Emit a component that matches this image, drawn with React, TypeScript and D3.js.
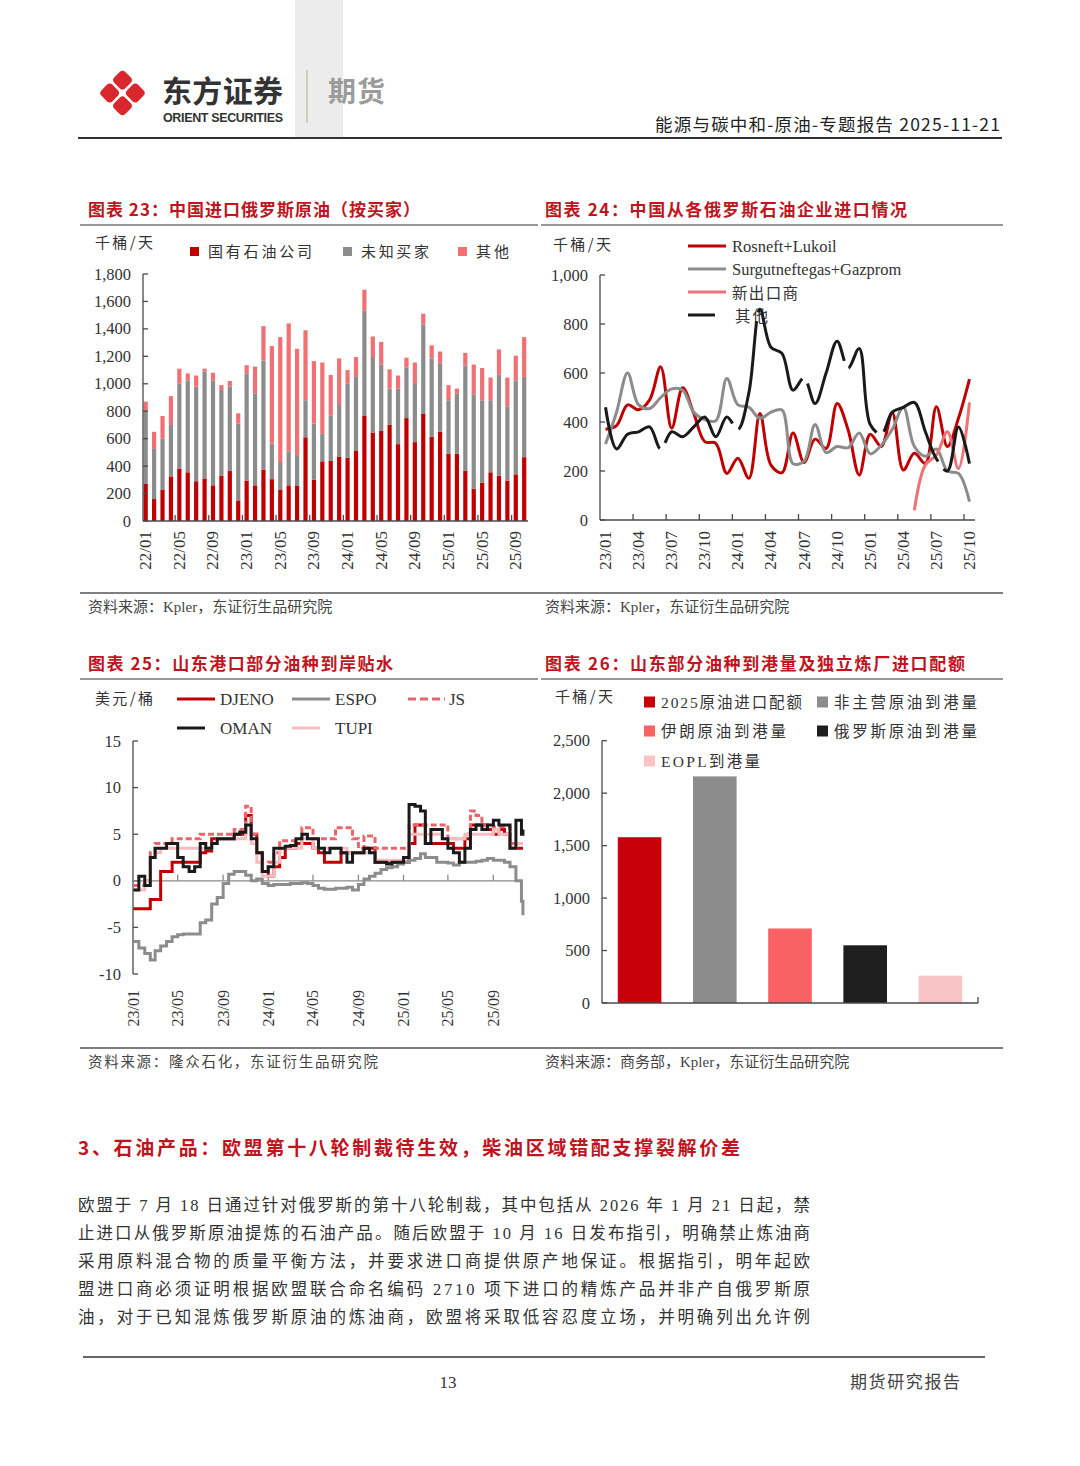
import React from "react";
import * as d3 from "d3";

const SERIF = "'Liberation Serif', 'Noto Sans CJK SC', serif";
const CJK = "'Noto Sans CJK SC', sans-serif";
const RED = "#C00000";
const GRAY = "#8C8C8C";
const AXIS = "#4a4a4a";
const TITLE_RED = "#C0141E";

// ---------- 图表23 中国进口俄罗斯原油（按买家）
const years23 = ["22", "23", "24", "25"];
const mm = ["01", "02", "03", "04", "05", "06", "07", "08", "09", "10", "11", "12"];
const months23 = years23.flatMap((y) => mm.map((m) => `${y}/${m}`)).slice(0, 46);
const stateOwned23 = [270, 160, 230, 325, 380, 355, 290, 310, 260, 330, 365, 150, 295, 260, 375, 305, 230, 260, 255, 610, 300, 435, 440, 470, 460, 510, 765, 645, 660, 700, 560, 750, 575, 780, 615, 650, 490, 490, 365, 235, 280, 355, 330, 295, 340, 465];
const unknown23 = [525, 365, 370, 375, 620, 670, 690, 780, 765, 625, 615, 560, 780, 670, 795, 260, 200, 245, 225, 270, 410, 200, 330, 375, 540, 540, 770, 550, 480, 265, 405, 370, 430, 650, 570, 500, 390, 440, 770, 685, 600, 525, 735, 540, 685, 585];
const other23 = [75, 125, 165, 210, 110, 50, 80, 20, 55, 35, 40, 75, 60, 195, 250, 710, 910, 935, 775, 510, 455, 520, 295, 340, 100, 145, 150, 150, 165, 140, 95, 70, 150, 80, 95, 85, 110, 35, 90, 220, 235, 165, 185, 210, 180, 290];
const legend23 = ["国有石油公司", "未知买家", "其他"];

// ---------- 图表24 中国从各俄罗斯石油企业进口情况
const months24 = ["23", "24", "25"].flatMap((y) => mm.map((m) => `${y}/${m}`)).slice(0, 34);
const rosneft24 = [370, 385, 470, 450, 490, 625, 375, 540, 435, 320, 313, 190, 252, 170, 435, 224, 193, 355, 235, 330, 292, 476, 367, 184, 350, 300, 438, 204, 272, 231, 462, 300, 415, 575];
const surgut24 = [310, 440, 600, 470, 455, 500, 535, 530, 440, 410, 405, 578, 470, 460, 415, 440, 449, 230, 240, 390, 275, 300, 295, 355, 270, 305, 370, 460, 300, 260, 290, 200, 190, 75];
const newExp24 = [null, null, null, null, null, null, null, null, null, null, null, null, null, null, null, null, null, null, null, null, null, null, null, null, null, null, null, null, 40, 225, 265, 360, 210, 480];
const others24 = [460, 290, 350, 360, 380, 290, 360, 340, 380, 420, 340, 420, 370, 520, 860, 705, 680, 530, 580, 475, 600, 730, 620, 700, 390, 350, 440, 460, 480, 360, 250, 200, 380, 230];
const legend24 = ["Rosneft+Lukoil", "Surgutneftegas+Gazprom", "新出口商", "其他"];

// ---------- 图表25 山东港口部分油种到岸贴水 (半月采样)
const dates25 = [
  ...d3.range(70).map((k) => new Date(2023, Math.floor(k / 2), k % 2 ? 16 : 1)),
  new Date(2025, 10, 20),
];
const djeno25 = [-3, -3, -3, -2, -2, 1, 1, 2, 2, 2, 2, 2, 3, 3.2, 4.5, 4.5, 4.5, 4.5, 5, 5, 7, 5, 3, 1, 0.5, 1.5, 2.5, 3.5, 3.5, 4, 4, 4, 3.5, 3, 2, 2, 2, 3, 3, 3, 3, 3.5, 3.5, 2, 2, 2, 2, 2, 2, 4, 6, 6, 4, 4, 4, 4, 4, 3.5, 3.5, 4.5, 6, 6, 6, 5.5, 5, 5.5, 5, 3.5, 3.5, 3.5, 3.5];
const espo25 = [-6.5, -7.2, -7.8, -8.5, -7.5, -7, -6.5, -6, -5.8, -5.7, -5.7, -5.7, -4.5, -4.2, -2.5, -1.8, -0.3, 0.7, 1, 1, 0.6, 0, 0.2, -0.3, -0.5, -0.4, -0.4, -0.4, -0.3, -0.3, -0.2, -0.3, -0.5, -0.8, -0.9, -0.9, -0.8, -0.8, -0.7, -1, -0.4, 0.2, 0.5, 0.8, 1.2, 1.4, 1.5, 1.8, 2, 2.2, 2.4, 2.9, 2.5, 2.5, 2, 2, 1.9, 1.7, 2, 2, 2, 2.1, 2.2, 2.4, 2.2, 2.2, 2, 1.5, 0, -2.2, -3.7];
const js25 = [-0.5, -0.5, 0, 3, 4, 4, 4, 4.5, 4.5, 4.5, 4.5, 4.5, 5, 5, 5, 5, 5, 5, 5.5, 5.5, 8, 5, 3, 1, 2, 3, 4.3, 4.3, 4.3, 4.3, 5.7, 5.7, 4.5, 4.5, 4.5, 4.5, 5.7, 5.7, 5.7, 4.5, 3.5, 4.8, 4.8, 3.5, 3.5, 3.5, 3.5, 3.5, 3.5, 6, 6, 6, 6, 6, 6, 6, 4.5, 4.5, 4.5, 5, 7.5, 7, 6, 6, 5.8, 5.8, 5.8, 4, 4, 4, 4];
const oman25 = [-1, 0.5, -0.5, 2.5, 3.5, 3.5, 4, 4, 2.5, 1.5, 1, 1.5, 4, 3.5, 4, 4.5, 4.5, 4.5, 5, 5.2, 6, 4.5, 3, 1, 1.5, 3.5, 3.5, 3.7, 3.8, 4.5, 5, 4.5, 4.5, 3.5, 3, 3.5, 3.5, 3, 2, 3, 3, 3.5, 3, 2, 2, 1.8, 2, 2, 2.5, 8.2, 8, 7.5, 4, 5.5, 5.5, 4.5, 3.5, 3, 2, 3.5, 5.5, 6, 5.5, 6, 6.5, 6, 6, 3.5, 6.5, 5, 5.5];
const tupi25 = [-1, -1, 0, 2.5, 3, 3.5, 3.5, 3.5, 3.5, 3.5, 3.5, 3.5, 3.5, 3.5, 4, 4.5, 4.5, 4.5, 4.5, 4.5, 6, 4, 2, 0.5, 0.5, 2, 3.5, 3.5, 3.5, 3.5, 4.5, 4.5, 3.5, 3.5, 3.5, 3.5, 3.5, 3.5, 3, 3, 3, 3, 3, 2.2, 2.2, 2.2, 2.2, 2.2, 2.5, 5, 5, 5, 5, 5, 5, 4.5, 4.5, 4.5, 4.5, 5, 5, 5, 5, 5, 5.5, 5, 5, 3.5, 4, 4, 4];
const ticks25 = ["23/01", "23/05", "23/09", "24/01", "24/05", "24/09", "25/01", "25/05", "25/09"];

// ---------- 图表26 山东部分油种到港量及独立炼厂进口配额
const cats26 = ["2025原油进口配额", "非主营原油到港量", "伊朗原油到港量", "俄罗斯原油到港量", "EOPL到港量"];
const values26 = [1580, 2160, 710, 550, 260];
const colors26 = ["#C8000A", "#8C8C8C", "#F86262", "#1E1E1E", "#F8C4C6"];

const bodyLines = [
  "欧盟于 7 月 18 日通过针对俄罗斯的第十八轮制裁，其中包括从 2026 年 1 月 21 日起，禁",
  "止进口从俄罗斯原油提炼的石油产品。随后欧盟于 10 月 16 日发布指引，明确禁止炼油商",
  "采用原料混合物的质量平衡方法，并要求进口商提供原产地保证。根据指引，明年起欧",
  "盟进口商必须证明根据欧盟联合命名编码 2710 项下进口的精炼产品并非产自俄罗斯原",
  "油，对于已知混炼俄罗斯原油的炼油商，欧盟将采取低容忍度立场，并明确列出允许例",
];

const fmt = d3.format(",");

const T = ({ x, y, children, size = 15, fill = "#333", anchor = "start", len, weight, family = SERIF, ...rest }: any) => (
  <text x={x} y={y} fontSize={size} fill={fill} textAnchor={anchor} fontFamily={family} fontWeight={weight}
    textLength={len} lengthAdjust={len ? "spacing" : undefined} {...rest}>{children}</text>
);

const RotLabel = ({ x, y, text, size = 17 }: any) => (
  <text transform={`translate(${x},${y}) rotate(-90)`} textAnchor="end" dominantBaseline="central"
    fontSize={size} fontFamily={SERIF} fill="#333">{text}</text>
);

function YAxis({ scale, x, ticks, labelX, fmtFn = fmt }: any) {
  const [r0, r1] = scale.range();
  return (
    <g>
      <line x1={x} x2={x} y1={r0} y2={r1} stroke={AXIS} strokeWidth={1.3} />
      {ticks.map((t: number) => (
        <g key={t}>
          <line x1={x} x2={x + 5} y1={scale(t)} y2={scale(t)} stroke={AXIS} strokeWidth={1.3} />
          <T x={labelX} y={scale(t)} anchor="end" size={16.5} dominantBaseline="central">{fmtFn(t)}</T>
        </g>
      ))}
    </g>
  );
}

function Chart23() {
  const x = d3.scaleBand<string>().domain(months23).range([143.6, 526.3]).paddingInner(0.5).paddingOuter(0);
  const y = d3.scaleLinear().domain([0, 1800]).range([521, 274]);
  const rows = months23.map((m, i) => ({ m, a: stateOwned23[i], b: unknown23[i], c: other23[i] }));
  const stacked = d3.stack<any>().keys(["a", "b", "c"])(rows);
  const colors = [RED, GRAY, "#F07074"];
  const step = x.step();
  const legX = [190, 343, 458];
  const legLen = [104, 68, 33];
  return (
    <g>
      <T x={95} y={248} size={15} family={CJK} len={58}>千桶/天</T>
      {legend23.map((l, i) => (
        <g key={l}>
          <rect x={legX[i]} y={247} width={9} height={9} fill={colors[i]} />
          <T x={legX[i] + 18} y={257} size={15} family={CJK} len={legLen[i]}>{l}</T>
        </g>
      ))}
      {stacked.map((s, k) => (
        <g key={k} fill={colors[k]}>
          {s.map((d: any) => (
            <rect key={d.data.m} x={x(d.data.m)} width={x.bandwidth()} y={y(d[1])} height={y(d[0]) - y(d[1])} />
          ))}
        </g>
      ))}
      <YAxis scale={y} x={143} ticks={d3.range(0, 1801, 200)} labelX={131} />
      <line x1={143} x2={528} y1={521} y2={521} stroke={AXIS} strokeWidth={1.3} />
      {months23.map((m, i) => i % 4 === 0 ? (
        <g key={m}>
          {i > 0 && <line x1={x(m)! - (step - x.bandwidth()) / 2} x2={x(m)! - (step - x.bandwidth()) / 2} y1={521} y2={515} stroke={AXIS} strokeWidth={1.3} />}
          <RotLabel x={x(m)! + x.bandwidth() / 2} y={531} text={m} />
        </g>
      ) : null)}
    </g>
  );
}

function Chart24() {
  const x = d3.scaleBand<string>().domain(months24).range([600, 975]).padding(0);
  const y = d3.scaleLinear().domain([0, 1000]).range([520, 275]);
  const cx = (i: number) => x(months24[i])! + x.bandwidth() / 2;
  const line = d3.line<any>().defined((d) => d != null).x((_, i) => cx(i)).y((d) => y(d)).curve(d3.curveCatmullRom.alpha(0.5));
  const series = [
    { v: rosneft24, c: RED, dash: undefined },
    { v: surgut24, c: GRAY, dash: undefined },
    { v: newExp24, c: "#EE7276", dash: undefined },
    { v: others24, c: "#1A1A1A", dash: "110,9" },
  ];
  const legY = [246, 269, 292, 315];
  return (
    <g>
      <T x={553} y={250} size={15} family={CJK} len={58}>千桶/天</T>
      {series.map((s, i) => (
        <g key={i}>
          <line x1={688} x2={i === 3 ? 715 : 726} y1={legY[i]} y2={legY[i]} stroke={s.c} strokeWidth={3} />
          <T x={i === 3 ? 735 : 732} y={legY[i]} size={i > 1 ? 15.5 : 16.5} family={i > 1 ? CJK : SERIF}
            dominantBaseline="central" len={i === 2 ? 66 : i === 3 ? 33 : undefined}>{legend24[i]}</T>
        </g>
      ))}
      <YAxis scale={y} x={600} ticks={d3.range(0, 1001, 200)} labelX={588} />
      <line x1={600} x2={975} y1={520} y2={520} stroke={AXIS} strokeWidth={1.3} />
      {series.map((s, i) => (
        <path key={i} d={line(s.v as any) || ""} fill="none" stroke={s.c} strokeWidth={3} strokeDasharray={s.dash} />
      ))}
      {months24.map((m, i) => i % 3 === 0 ? (
        <g key={m}>
          {i > 0 && <line x1={x(m)} x2={x(m)} y1={520} y2={514} stroke={AXIS} strokeWidth={1.3} />}
          <RotLabel x={cx(i)} y={531} text={m} />
        </g>
      ) : null)}
    </g>
  );
}

function Chart25() {
  const x = d3.scaleTime().domain([new Date(2023, 0, 1), new Date(2025, 11, 1)]).range([133.3, 527]);
  const y = d3.scaleLinear().domain([-10, 15]).range([974, 741]);
  const line = d3.line<number>().x((_, i) => x(dates25[i])).y((d) => y(d)).curve(d3.curveStepAfter);
  const series = [
    { name: "DJENO", v: djeno25, c: RED, dash: undefined },
    { name: "ESPO", v: espo25, c: GRAY, dash: undefined },
    { name: "JS", v: js25, c: "#E8666B", dash: "6,3" },
    { name: "TUPI", v: tupi25, c: "#F6BDC0", dash: undefined },
    { name: "OMAN", v: oman25, c: "#1A1A1A", dash: undefined },
  ];
  const leg = [
    { s: series[0], lx: 177, ly: 699, tx: 220, w: 38 },
    { s: series[1], lx: 292, ly: 699, tx: 335, w: 38 },
    { s: series[2], lx: 408, ly: 699, tx: 449, w: 37 },
    { s: series[4], lx: 177, ly: 728, tx: 220, w: 28 },
    { s: series[3], lx: 292, ly: 728, tx: 335, w: 28 },
  ];
  const tickDates = ticks25.map((t, k) => new Date(2023, k * 4, 1));
  return (
    <g>
      <T x={95} y={704} size={15} family={CJK} len={58}>美元/桶</T>
      {leg.map((l) => (
        <g key={l.s.name}>
          <line x1={l.lx} x2={l.lx + l.w} y1={l.ly} y2={l.ly} stroke={l.s.c} strokeWidth={3} strokeDasharray={l.s.dash ? "8,4" : undefined} />
          <T x={l.tx} y={l.ly} size={17} dominantBaseline="central">{l.s.name}</T>
        </g>
      ))}
      <YAxis scale={y} x={133} ticks={d3.range(-10, 16, 5)} labelX={121} fmtFn={(v: number) => String(v)} />
      <line x1={133} x2={523} y1={y(0)} y2={y(0)} stroke="#8a8a8a" strokeWidth={1.3} />
      {tickDates.map((d, k) => (
        <g key={k}>
          {k > 0 && <line x1={x(d)} x2={x(d)} y1={y(0)} y2={y(0) - 6} stroke="#8a8a8a" strokeWidth={1.3} />}
          <RotLabel x={x(d)} y={990} text={ticks25[k]} size={16} />
        </g>
      ))}
      {series.map((s) => (
        <path key={s.name} d={line(s.v) || ""} fill="none" stroke={s.c} strokeWidth={3} strokeDasharray={s.dash} />
      ))}
    </g>
  );
}

function Chart26() {
  const x = d3.scaleBand<string>().domain(cats26).range([602, 978]).paddingInner(0.42).paddingOuter(0.21);
  const y = d3.scaleLinear().domain([0, 2500]).range([1003, 740.7]);
  const leg = [
    { x: 644, y: 702, len: 141 }, { x: 817, y: 702, len: 143 },
    { x: 644, y: 731, len: 125 }, { x: 817, y: 731, len: 143 },
    { x: 644, y: 761, len: 99 },
  ];
  return (
    <g>
      <T x={555} y={702} size={15} family={CJK} len={58}>千桶/天</T>
      {cats26.map((c, i) => (
        <g key={c}>
          <rect x={leg[i].x} y={leg[i].y - 5.5} width={11} height={11} fill={colors26[i]} />
          <T x={leg[i].x + 17} y={leg[i].y} size={15.5} dominantBaseline="central" len={leg[i].len}>{c}</T>
        </g>
      ))}
      {cats26.map((c, i) => (
        <rect key={c} x={x(c)} width={x.bandwidth()} y={y(values26[i])} height={y(0) - y(values26[i])} fill={colors26[i]} />
      ))}
      <YAxis scale={y} x={602} ticks={d3.range(0, 2501, 500)} labelX={590} />
      <line x1={602} x2={978} y1={1003} y2={1003} stroke={AXIS} strokeWidth={1.3} />
      <line x1={978} x2={978} y1={1003} y2={997} stroke={AXIS} strokeWidth={1.3} />
    </g>
  );
}

function Logo() {
  const s = 15.5, g = 2.6, d = (s + g) / Math.SQRT2;
  const cx = 122.5, cy = 93;
  const pos = [[-d, 0], [d, 0], [0, -d], [0, d]];
  return (
    <g fill="#D9272E">
      {pos.map(([dx, dy], i) => (
        <rect key={i} x={-s / 2} y={-s / 2} width={s} height={s} rx={4}
          transform={`translate(${cx + dx},${cy + dy}) rotate(45)`} />
      ))}
    </g>
  );
}

export default function App() {
  return (
    <svg width={1080} height={1466} viewBox="0 0 1080 1466" style={{ position: "absolute", left: 0, top: 0, background: "#fff" }}>
      <rect width={1080} height={1466} fill="#fff" />
      {/* header */}
      <rect x={295} y={0} width={48} height={137} fill="#ececec" />
      <Logo />
      <T x={162} y={102} size={30} family={CJK} weight={700} fill="#333" len={121}>东方证券</T>
      <T x={163} y={122} size={12.5} family="'Liberation Sans', Arial, sans-serif" weight={700} fill="#333" len={120}>ORIENT SECURITIES</T>
      <line x1={307} x2={307} y1={70} y2={123} stroke="#c9c0b0" strokeWidth={1.5} />
      <T x={328} y={102} size={28} family={CJK} weight={700} fill="#9b9b9b" len={57}>期货</T>
      <T x={1000} y={131} size={17.5} family={CJK} anchor="end" fill="#222" len={345}>能源与碳中和-原油-专题报告 2025-11-21</T>
      <line x1={78} x2={1002} y1={138} y2={138} stroke="#333" strokeWidth={1.8} />

      {/* chart titles & rules */}
      <T x={88} y={216} size={17} family={CJK} weight={700} fill={TITLE_RED} len={332}>图表 23：中国进口俄罗斯原油（按买家）</T>
      <T x={545} y={216} size={17} family={CJK} weight={700} fill={TITLE_RED} len={362}>图表 24：中国从各俄罗斯石油企业进口情况</T>
      <line x1={80} x2={538} y1={225} y2={225} stroke="#777" strokeWidth={1.3} />
      <line x1={541} x2={1003} y1={225} y2={225} stroke="#777" strokeWidth={1.3} />
      <line x1={80} x2={1003} y1={593} y2={593} stroke="#555" strokeWidth={1.3} />
      <T x={88} y={612} size={15} fill="#444">资料来源：Kpler，东证衍生品研究院</T>
      <T x={545} y={612} size={15} fill="#444">资料来源：Kpler，东证衍生品研究院</T>

      <T x={88} y={670} size={17} family={CJK} weight={700} fill={TITLE_RED} len={305}>图表 25：山东港口部分油种到岸贴水</T>
      <T x={545} y={670} size={17} family={CJK} weight={700} fill={TITLE_RED} len={420}>图表 26：山东部分油种到港量及独立炼厂进口配额</T>
      <line x1={80} x2={538} y1={679} y2={679} stroke="#777" strokeWidth={1.3} />
      <line x1={541} x2={1003} y1={679} y2={679} stroke="#777" strokeWidth={1.3} />
      <line x1={80} x2={1003} y1={1048} y2={1048} stroke="#555" strokeWidth={1.3} />
      <T x={88} y={1067} size={14.5} fill="#444" len={290}>资料来源：隆众石化，东证衍生品研究院</T>
      <T x={545} y={1067} size={15} fill="#444">资料来源：商务部，Kpler，东证衍生品研究院</T>

      <Chart23 />
      <Chart24 />
      <Chart25 />
      <Chart26 />

      {/* section text */}
      <T x={78} y={1155} size={19} family={CJK} weight={700} fill={TITLE_RED} len={662}>3、石油产品：欧盟第十八轮制裁待生效，柴油区域错配支撑裂解价差</T>
      {bodyLines.map((l, i) => (
        <T key={i} x={78} y={1211 + i * 28} size={16.5} fill="#333" len={732}>{l}</T>
      ))}

      {/* footer */}
      <line x1={83} x2={985} y1={1357} y2={1357} stroke="#333" strokeWidth={1.3} />
      <T x={448} y={1388} size={17} anchor="middle" fill="#333">13</T>
      <T x={960} y={1388} size={17} family={CJK} anchor="end" fill="#444" len={110}>期货研究报告</T>
    </svg>
  );
}
